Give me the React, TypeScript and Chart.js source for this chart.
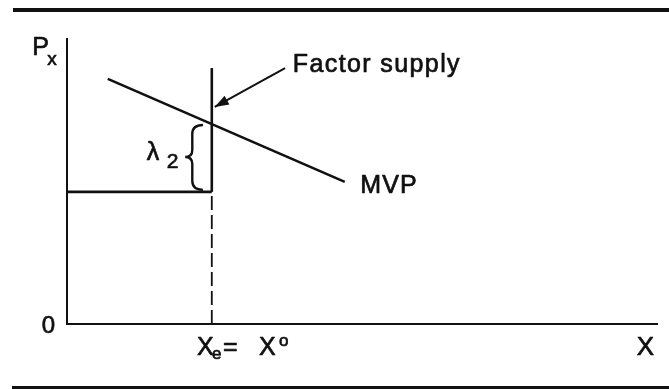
import { useEffect, useRef } from "react";
import { Chart, registerables } from "chart.js";

Chart.register(...registerables);

// Axis ranges (abstract units)
const X_RANGE = [0, 100];
const Y_RANGE = [0, 100];

// MVP curve (downward sloping)
const mvpX = [6.9, 47.0];
const mvpY = [85.7, 49.7];

// Factor supply: vertical at X_e, solid above the price floor
const supplyX = [24.5, 24.5];
const supplyY = [46.2, 89.5];

// Horizontal price line
const floorX = [0, 24.5];
const floorY = [46.2, 46.2];

// Dashed drop line to X_e
const dropX = [24.5, 24.5];
const dropY = [0, 46.2];

// Arrow from "Factor supply" label to the curve
const arrowX = [36.9, 25.0];
const arrowY = [89.5, 75.9];

// Brace for lambda_2: [tip, spine, cusp] x, [top, middle, bottom] y
const braceX = [23.0, 21.2, 20.0];
const braceY = [69.6, 58.4, 46.9];

// Text labels: anchors in data units
const labelNames = ["Factor supply", "MVP", "Px", "0", "XeXo", "X", "lambda2"];
const labelX = [38.2, 49.6, -5.9, -2.0, 22.0, 96.4, 13.5];
const labelY = [88.1, 45.8, 94.1, -3.1, -10.8, -10.8, 57.3];

const FONT = "'Liberation Sans', Arial, Helvetica, sans-serif";

type Part = { t: string; size: number; dx: number; dy: number; ls?: number; align?: CanvasTextAlign };

const labelParts: Record<string, Part[]> = {
  "Factor supply": [{ t: "Factor supply", size: 25, dx: 0, dy: 0, ls: 1.4 }],
  MVP: [{ t: "MVP", size: 25, dx: 0, dy: 0, ls: 1.2 }],
  Px: [
    { t: "P", size: 25, dx: 0, dy: 0 },
    { t: "x", size: 19, dx: 15, dy: 10 },
  ],
  "0": [{ t: "0", size: 24, dx: 0, dy: 0, align: "right" }],
  XeXo: [
    { t: "X", size: 25, dx: 0, dy: 0 },
    { t: "e", size: 17, dx: 15, dy: 4 },
    { t: "=", size: 25, dx: 26, dy: 0 },
    { t: "X", size: 25, dx: 62, dy: 0 },
    { t: "o", size: 17, dx: 82, dy: -9 },
  ],
  X: [{ t: "X", size: 26, dx: 0, dy: 0 }],
  lambda2: [
    { t: "λ", size: 25, dx: 0, dy: 0 },
    { t: "2", size: 21, dx: 20, dy: 8 },
  ],
};

const xy = (xs: number[], ys: number[]) => xs.map((x, i) => ({ x, y: ys[i] }));

const decorPlugin = {
  id: "decor",
  afterDatasetsDraw(chart: any) {
    const ctx: CanvasRenderingContext2D = chart.ctx;
    const xs = chart.scales.x;
    const ys = chart.scales.y;
    const ca = chart.chartArea;
    const px = (v: number) => xs.getPixelForValue(v);
    const py = (v: number) => ys.getPixelForValue(v);
    ctx.save();
    ctx.strokeStyle = "#111";
    ctx.fillStyle = "#111";
    ctx.lineCap = "butt";

    // Frame rules at top and bottom
    ctx.lineWidth = 4;
    ctx.beginPath();
    ctx.moveTo(13, 10);
    ctx.lineTo(669, 10);
    ctx.stroke();
    ctx.beginPath();
    ctx.moveTo(12, 388);
    ctx.lineTo(669, 388);
    ctx.stroke();

    // Axes
    ctx.lineWidth = 2;
    ctx.beginPath();
    ctx.moveTo(ca.left, ca.top);
    ctx.lineTo(ca.left, ca.bottom);
    ctx.lineTo(ca.right, ca.bottom);
    ctx.stroke();

    // Arrowhead
    const tx = px(arrowX[1]);
    const ty = py(arrowY[1]);
    const sx = px(arrowX[0]);
    const sy = py(arrowY[0]);
    const ang = Math.atan2(ty - sy, tx - sx);
    const len = 14;
    const half = 5;
    ctx.beginPath();
    ctx.moveTo(tx, ty);
    ctx.lineTo(tx - len * Math.cos(ang) + half * Math.sin(ang), ty - len * Math.sin(ang) - half * Math.cos(ang));
    ctx.lineTo(tx - len * Math.cos(ang) - half * Math.sin(ang), ty - len * Math.sin(ang) + half * Math.cos(ang));
    ctx.closePath();
    ctx.fill();

    // Brace
    const tip = px(braceX[0]);
    const spine = px(braceX[1]);
    const cusp = px(braceX[2]);
    const top = py(braceY[0]);
    const mid = py(braceY[1]);
    const bot = py(braceY[2]);
    ctx.lineWidth = 2.4;
    ctx.beginPath();
    ctx.moveTo(tip, top);
    ctx.quadraticCurveTo(spine, top, spine, top + 9);
    ctx.lineTo(spine, mid - 7);
    ctx.quadraticCurveTo(spine, mid, cusp, mid);
    ctx.quadraticCurveTo(spine, mid, spine, mid + 7);
    ctx.lineTo(spine, bot - 9);
    ctx.quadraticCurveTo(spine, bot, tip, bot);
    ctx.stroke();

    // Labels (slight stroke to mimic the heavier printed type)
    ctx.textBaseline = "alphabetic";
    ctx.lineWidth = 0.7;
    ctx.lineJoin = "round";
    labelNames.forEach((name, i) => {
      const ax = px(labelX[i]);
      const ay = py(labelY[i]);
      for (const p of labelParts[name]) {
        ctx.font = `${p.size}px ${FONT}`;
        ctx.textAlign = p.align || "left";
        (ctx as any).letterSpacing = `${p.ls || 0}px`;
        ctx.fillText(p.t, ax + p.dx, ay + p.dy);
        ctx.strokeText(p.t, ax + p.dx, ay + p.dy);
      }
    });
    (ctx as any).letterSpacing = "0px";
    ctx.restore();
  },
};

export default function App() {
  const ref = useRef<HTMLCanvasElement | null>(null);
  useEffect(() => {
    document.body.style.margin = "0";
    document.body.style.background = "#fff";
    if (!ref.current) return;
    const line = (data: { x: number; y: number }[], width: number, dash: number[] = []) => ({
      data,
      borderColor: "#111",
      borderWidth: width,
      borderDash: dash,
      pointRadius: 0,
      showLine: true,
      fill: false,
      tension: 0,
    });
    const chart = new Chart(ref.current, {
      type: "scatter",
      data: {
        datasets: [
          line(xy(mvpX, mvpY), 2.6),
          line(xy(supplyX, supplyY), 2.6),
          line(xy(floorX, floorY), 2.6),
          line(xy(dropX, dropY), 1.8, [14, 5]),
          line(xy(arrowX, arrowY), 2),
        ] as any,
      },
      options: {
        animation: false,
        responsive: false,
        devicePixelRatio: 1,
        layout: { padding: { left: 67, top: 38, right: 11, bottom: 65 } },
        plugins: { legend: { display: false }, tooltip: { enabled: false } },
        scales: {
          x: { type: "linear", display: false, min: X_RANGE[0], max: X_RANGE[1] },
          y: { type: "linear", display: false, min: Y_RANGE[0], max: Y_RANGE[1] },
        },
      },
      plugins: [decorPlugin],
    });
    return () => chart.destroy();
  }, []);
  return (
    <div style={{ width: 669, height: 389, background: "#fff" }}>
      <canvas ref={ref} width={669} height={389} style={{ display: "block" }} />
    </div>
  );
}
